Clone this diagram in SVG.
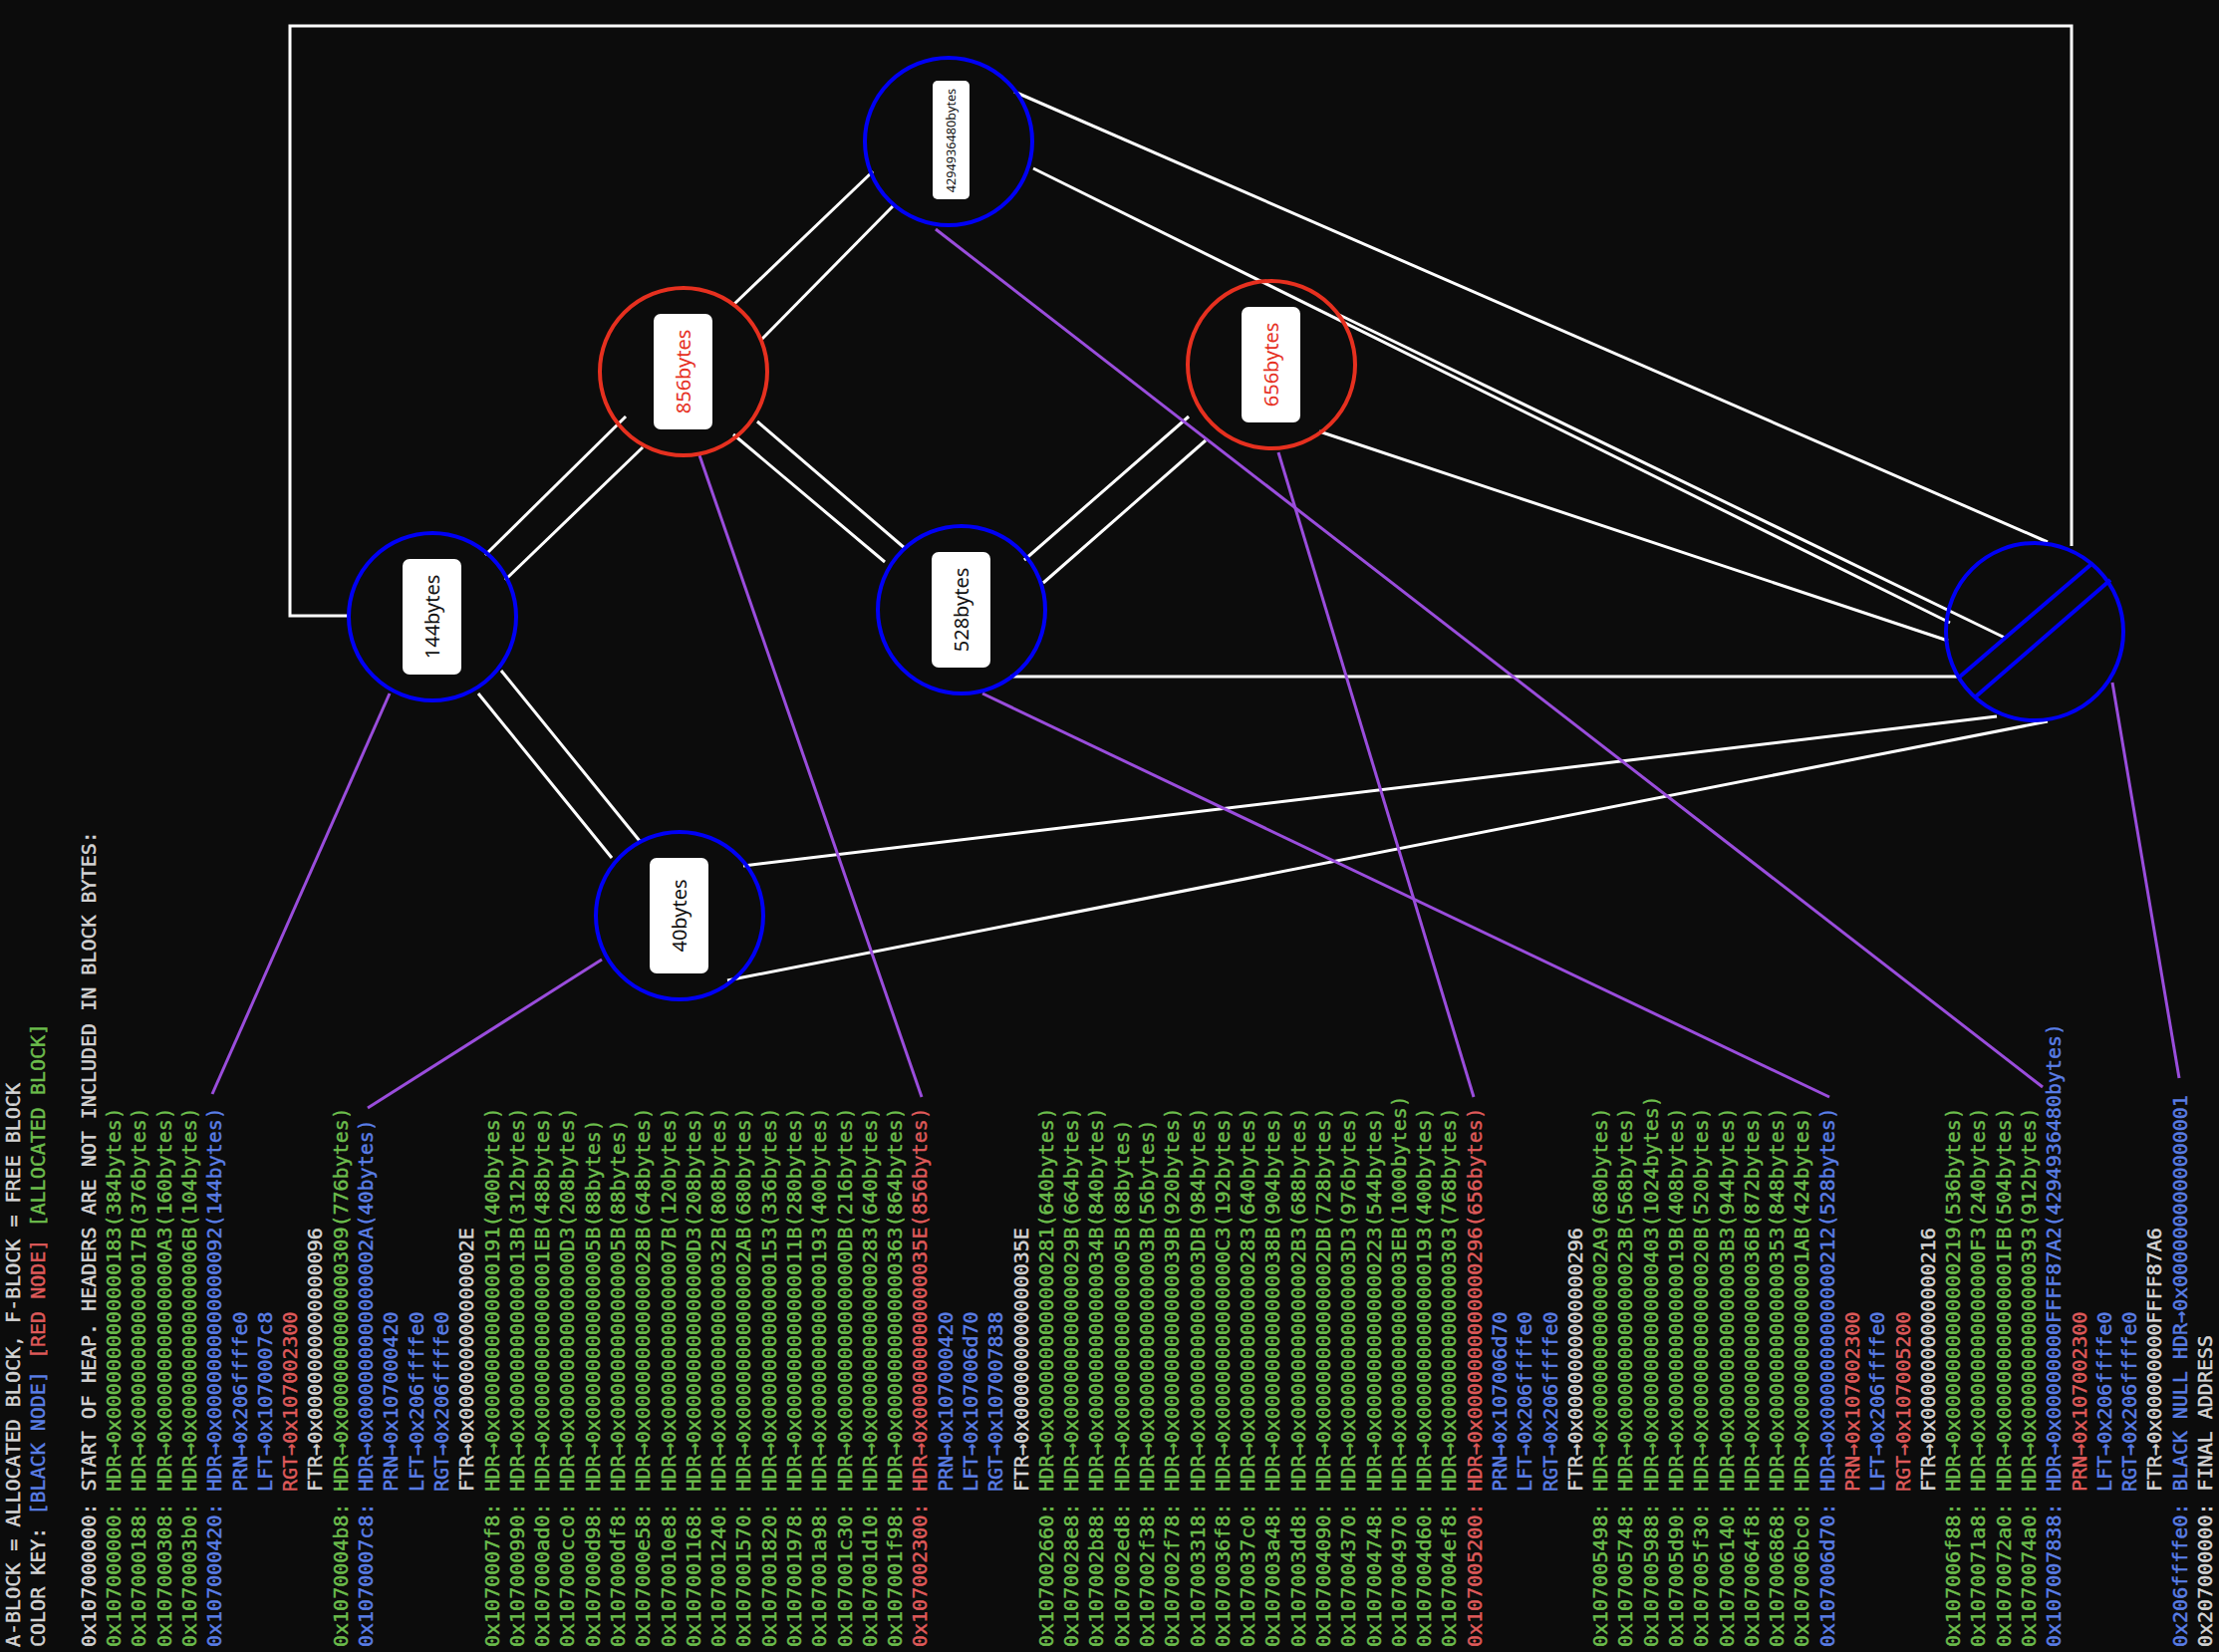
<svg xmlns="http://www.w3.org/2000/svg" width="2227" height="1658" viewBox="0 0 2227 1658">
<style>
.t text{font-family:"DejaVu Sans Mono","Liberation Mono",monospace;font-size:20px;stroke-width:0.45px}
.g{fill:#6cbd4c;stroke:#6cbd4c}.b{fill:#5a7ee6;stroke:#5a7ee6}.r{fill:#df5a5a;stroke:#df5a5a}.w{fill:#d4d4d4;stroke:#d4d4d4}
.e{stroke:#ffffff;stroke-width:3;fill:none}
.p{stroke:#9a4ddc;stroke-width:3;fill:none}
.node circle{fill:none;stroke-width:4}
.blk circle,.blk line{stroke:#0000f5}
.red circle{stroke:#e6301f}
.node rect{fill:#ffffff}
.node text{font-family:"Noto Sans","DejaVu Sans",sans-serif;font-size:20px;text-anchor:middle}
.blk text{fill:#111111}.red text{fill:#e6301f}
</style>
<rect width="2227" height="1658" fill="#0c0c0c"/>
<g id="connectors">
<polyline class="e" points="351,618 291,618 291,26 2079,26 2079,548"/>
<line class="e" x1="1014" y1="679" x2="1964" y2="679"/>
<line class="e" x1="1018" y1="92" x2="2055" y2="544"/>
<line class="e" x1="1037" y1="169" x2="1957" y2="625"/>
<line class="e" x1="1342" y1="315" x2="2012" y2="640"/>
<line class="e" x1="1324" y1="433" x2="1955" y2="643"/>
<line class="e" x1="746" y1="869" x2="2004" y2="719"/>
<line class="e" x1="730" y1="984" x2="2055" y2="724"/>
<line class="e" x1="487" y1="557" x2="628" y2="418"/>
<line class="e" x1="507" y1="582" x2="645" y2="449"/>
<line class="e" x1="737" y1="305" x2="876" y2="172"/>
<line class="e" x1="764" y1="341" x2="896" y2="207"/>
<line class="e" x1="736" y1="436" x2="888" y2="564"/>
<line class="e" x1="760" y1="423" x2="909" y2="551"/>
<line class="e" x1="1028" y1="562" x2="1193" y2="418"/>
<line class="e" x1="1047" y1="585" x2="1210" y2="442"/>
<line class="e" x1="480" y1="696" x2="614" y2="861"/>
<line class="e" x1="503" y1="673" x2="642" y2="844"/>
<line class="p" x1="391" y1="696" x2="213" y2="1098"/>
<line class="p" x1="604" y1="963" x2="369" y2="1112"/>
<line class="p" x1="702" y1="457" x2="925" y2="1101"/>
<line class="p" x1="1283" y1="454" x2="1479" y2="1101"/>
<line class="p" x1="986" y1="696" x2="1836" y2="1101"/>
<line class="p" x1="939" y1="230" x2="2050" y2="1091"/>
<line class="p" x1="2120" y1="685" x2="2187" y2="1082"/>
</g>
<g id="node-4294936480" class="node blk">
<circle cx="952" cy="142" r="84"/>
<rect x="936" y="81" width="37" height="119" rx="5"/>
<text transform="translate(959,141) rotate(-90)" style="font-size:12.7px">4294936480bytes</text>
</g>
<g id="node-856" class="node red">
<circle cx="686" cy="373" r="84"/>
<rect x="656" y="315" width="59" height="116" rx="7"/>
<text transform="translate(693,373) rotate(-90)">856bytes</text>
</g>
<g id="node-656" class="node red">
<circle cx="1276" cy="366" r="84"/>
<rect x="1246" y="308" width="59" height="116" rx="7"/>
<text transform="translate(1283,366) rotate(-90)">656bytes</text>
</g>
<g id="node-144" class="node blk">
<circle cx="434" cy="619" r="84"/>
<rect x="404" y="561" width="59" height="116" rx="7"/>
<text transform="translate(441,619) rotate(-90)">144bytes</text>
</g>
<g id="node-528" class="node blk">
<circle cx="965" cy="612" r="84"/>
<rect x="935" y="554" width="59" height="116" rx="7"/>
<text transform="translate(972,612) rotate(-90)">528bytes</text>
</g>
<g id="node-40" class="node blk">
<circle cx="682" cy="919" r="84"/>
<rect x="652" y="861" width="59" height="116" rx="7"/>
<text transform="translate(689,919) rotate(-90)">40bytes</text>
</g>
<g id="node-null" class="node blk">
<circle cx="2042" cy="634" r="89"/>
<line x1="1967" y1="679" x2="2098" y2="567" stroke-width="4"/>
<line x1="1983" y1="699" x2="2118" y2="582" stroke-width="4"/>
</g>
<g id="heap-text" class="t">
<text class="w" transform="translate(20,1653) rotate(-90)">A-BLOCK = ALLOCATED BLOCK, F-BLOCK = FREE BLOCK</text>
<text class="w" transform="translate(45.3,1653) rotate(-90)">COLOR KEY: <tspan class="b">[BLACK NODE]</tspan> <tspan class="r">[RED NODE]</tspan> <tspan class="g">[ALLOCATED BLOCK]</tspan></text>
<text class="w" transform="translate(95.9,1653) rotate(-90)">0x107000000: START OF HEAP. HEADERS ARE NOT INCLUDED IN BLOCK BYTES:</text>
<text class="g" transform="translate(121.1,1653) rotate(-90)">0x107000000: HDR→0x0000000000000183(384bytes)</text>
<text class="g" transform="translate(146.4,1653) rotate(-90)">0x107000188: HDR→0x000000000000017B(376bytes)</text>
<text class="g" transform="translate(171.7,1653) rotate(-90)">0x107000308: HDR→0x00000000000000A3(160bytes)</text>
<text class="g" transform="translate(197,1653) rotate(-90)">0x1070003b0: HDR→0x000000000000006B(104bytes)</text>
<text class="b" transform="translate(222.3,1653) rotate(-90)">0x107000420: HDR→0x0000000000000092(144bytes)</text>
<text class="b" transform="translate(247.6,1497) rotate(-90)">PRN→0x206ffffe0</text>
<text class="b" transform="translate(272.9,1497) rotate(-90)">LFT→0x1070007c8</text>
<text class="r" transform="translate(298.2,1497) rotate(-90)">RGT→0x107002300</text>
<text class="w" transform="translate(323.4,1497) rotate(-90)">FTR→0x0000000000000096</text>
<text class="g" transform="translate(348.7,1653) rotate(-90)">0x1070004b8: HDR→0x0000000000000309(776bytes)</text>
<text class="b" transform="translate(374,1653) rotate(-90)">0x1070007c8: HDR→0x000000000000002A(40bytes)</text>
<text class="b" transform="translate(399.3,1497) rotate(-90)">PRN→0x107000420</text>
<text class="b" transform="translate(424.6,1497) rotate(-90)">LFT→0x206ffffe0</text>
<text class="b" transform="translate(449.9,1497) rotate(-90)">RGT→0x206ffffe0</text>
<text class="w" transform="translate(475.2,1497) rotate(-90)">FTR→0x000000000000002E</text>
<text class="g" transform="translate(500.5,1653) rotate(-90)">0x1070007f8: HDR→0x0000000000000191(400bytes)</text>
<text class="g" transform="translate(525.7,1653) rotate(-90)">0x107000990: HDR→0x000000000000013B(312bytes)</text>
<text class="g" transform="translate(551,1653) rotate(-90)">0x107000ad0: HDR→0x00000000000001EB(488bytes)</text>
<text class="g" transform="translate(576.3,1653) rotate(-90)">0x107000cc0: HDR→0x00000000000000D3(208bytes)</text>
<text class="g" transform="translate(601.6,1653) rotate(-90)">0x107000d98: HDR→0x000000000000005B(88bytes)</text>
<text class="g" transform="translate(626.9,1653) rotate(-90)">0x107000df8: HDR→0x000000000000005B(88bytes)</text>
<text class="g" transform="translate(652.2,1653) rotate(-90)">0x107000e58: HDR→0x000000000000028B(648bytes)</text>
<text class="g" transform="translate(677.5,1653) rotate(-90)">0x1070010e8: HDR→0x000000000000007B(120bytes)</text>
<text class="g" transform="translate(702.7,1653) rotate(-90)">0x107001168: HDR→0x00000000000000D3(208bytes)</text>
<text class="g" transform="translate(728,1653) rotate(-90)">0x107001240: HDR→0x000000000000032B(808bytes)</text>
<text class="g" transform="translate(753.3,1653) rotate(-90)">0x107001570: HDR→0x00000000000002AB(680bytes)</text>
<text class="g" transform="translate(778.6,1653) rotate(-90)">0x107001820: HDR→0x0000000000000153(336bytes)</text>
<text class="g" transform="translate(803.9,1653) rotate(-90)">0x107001978: HDR→0x000000000000011B(280bytes)</text>
<text class="g" transform="translate(829.2,1653) rotate(-90)">0x107001a98: HDR→0x0000000000000193(400bytes)</text>
<text class="g" transform="translate(854.5,1653) rotate(-90)">0x107001c30: HDR→0x00000000000000DB(216bytes)</text>
<text class="g" transform="translate(879.8,1653) rotate(-90)">0x107001d10: HDR→0x0000000000000283(640bytes)</text>
<text class="g" transform="translate(905,1653) rotate(-90)">0x107001f98: HDR→0x0000000000000363(864bytes)</text>
<text class="r" transform="translate(930.3,1653) rotate(-90)">0x107002300: HDR→0x000000000000035E(856bytes)</text>
<text class="b" transform="translate(955.6,1497) rotate(-90)">PRN→0x107000420</text>
<text class="b" transform="translate(980.9,1497) rotate(-90)">LFT→0x107006d70</text>
<text class="b" transform="translate(1006.2,1497) rotate(-90)">RGT→0x107007838</text>
<text class="w" transform="translate(1031.5,1497) rotate(-90)">FTR→0x000000000000035E</text>
<text class="g" transform="translate(1056.8,1653) rotate(-90)">0x107002660: HDR→0x0000000000000281(640bytes)</text>
<text class="g" transform="translate(1082,1653) rotate(-90)">0x1070028e8: HDR→0x000000000000029B(664bytes)</text>
<text class="g" transform="translate(1107.3,1653) rotate(-90)">0x107002b88: HDR→0x000000000000034B(840bytes)</text>
<text class="g" transform="translate(1132.6,1653) rotate(-90)">0x107002ed8: HDR→0x000000000000005B(88bytes)</text>
<text class="g" transform="translate(1157.9,1653) rotate(-90)">0x107002f38: HDR→0x000000000000003B(56bytes)</text>
<text class="g" transform="translate(1183.2,1653) rotate(-90)">0x107002f78: HDR→0x000000000000039B(920bytes)</text>
<text class="g" transform="translate(1208.5,1653) rotate(-90)">0x107003318: HDR→0x00000000000003DB(984bytes)</text>
<text class="g" transform="translate(1233.8,1653) rotate(-90)">0x1070036f8: HDR→0x00000000000000C3(192bytes)</text>
<text class="g" transform="translate(1259.1,1653) rotate(-90)">0x1070037c0: HDR→0x0000000000000283(640bytes)</text>
<text class="g" transform="translate(1284.3,1653) rotate(-90)">0x107003a48: HDR→0x000000000000038B(904bytes)</text>
<text class="g" transform="translate(1309.6,1653) rotate(-90)">0x107003dd8: HDR→0x00000000000002B3(688bytes)</text>
<text class="g" transform="translate(1334.9,1653) rotate(-90)">0x107004090: HDR→0x00000000000002DB(728bytes)</text>
<text class="g" transform="translate(1360.2,1653) rotate(-90)">0x107004370: HDR→0x00000000000003D3(976bytes)</text>
<text class="g" transform="translate(1385.5,1653) rotate(-90)">0x107004748: HDR→0x0000000000000223(544bytes)</text>
<text class="g" transform="translate(1410.8,1653) rotate(-90)">0x107004970: HDR→0x00000000000003EB(1000bytes)</text>
<text class="g" transform="translate(1436.1,1653) rotate(-90)">0x107004d60: HDR→0x0000000000000193(400bytes)</text>
<text class="g" transform="translate(1461.4,1653) rotate(-90)">0x107004ef8: HDR→0x0000000000000303(768bytes)</text>
<text class="r" transform="translate(1486.6,1653) rotate(-90)">0x107005200: HDR→0x0000000000000296(656bytes)</text>
<text class="b" transform="translate(1511.9,1497) rotate(-90)">PRN→0x107006d70</text>
<text class="b" transform="translate(1537.2,1497) rotate(-90)">LFT→0x206ffffe0</text>
<text class="b" transform="translate(1562.5,1497) rotate(-90)">RGT→0x206ffffe0</text>
<text class="w" transform="translate(1587.8,1497) rotate(-90)">FTR→0x0000000000000296</text>
<text class="g" transform="translate(1613.1,1653) rotate(-90)">0x107005498: HDR→0x00000000000002A9(680bytes)</text>
<text class="g" transform="translate(1638.4,1653) rotate(-90)">0x107005748: HDR→0x000000000000023B(568bytes)</text>
<text class="g" transform="translate(1663.6,1653) rotate(-90)">0x107005988: HDR→0x0000000000000403(1024bytes)</text>
<text class="g" transform="translate(1688.9,1653) rotate(-90)">0x107005d90: HDR→0x000000000000019B(408bytes)</text>
<text class="g" transform="translate(1714.2,1653) rotate(-90)">0x107005f30: HDR→0x000000000000020B(520bytes)</text>
<text class="g" transform="translate(1739.5,1653) rotate(-90)">0x107006140: HDR→0x00000000000003B3(944bytes)</text>
<text class="g" transform="translate(1764.8,1653) rotate(-90)">0x1070064f8: HDR→0x000000000000036B(872bytes)</text>
<text class="g" transform="translate(1790.1,1653) rotate(-90)">0x107006868: HDR→0x0000000000000353(848bytes)</text>
<text class="g" transform="translate(1815.4,1653) rotate(-90)">0x107006bc0: HDR→0x00000000000001AB(424bytes)</text>
<text class="b" transform="translate(1840.7,1653) rotate(-90)">0x107006d70: HDR→0x0000000000000212(528bytes)</text>
<text class="r" transform="translate(1865.9,1497) rotate(-90)">PRN→0x107002300</text>
<text class="b" transform="translate(1891.2,1497) rotate(-90)">LFT→0x206ffffe0</text>
<text class="r" transform="translate(1916.5,1497) rotate(-90)">RGT→0x107005200</text>
<text class="w" transform="translate(1941.8,1497) rotate(-90)">FTR→0x0000000000000216</text>
<text class="g" transform="translate(1967.1,1653) rotate(-90)">0x107006f88: HDR→0x0000000000000219(536bytes)</text>
<text class="g" transform="translate(1992.4,1653) rotate(-90)">0x1070071a8: HDR→0x00000000000000F3(240bytes)</text>
<text class="g" transform="translate(2017.7,1653) rotate(-90)">0x1070072a0: HDR→0x00000000000001FB(504bytes)</text>
<text class="g" transform="translate(2042.9,1653) rotate(-90)">0x1070074a0: HDR→0x0000000000000393(912bytes)</text>
<text class="b" transform="translate(2068.2,1653) rotate(-90)">0x107007838: HDR→0x00000000FFFF87A2(4294936480bytes)</text>
<text class="r" transform="translate(2093.5,1497) rotate(-90)">PRN→0x107002300</text>
<text class="b" transform="translate(2118.8,1497) rotate(-90)">LFT→0x206ffffe0</text>
<text class="b" transform="translate(2144.1,1497) rotate(-90)">RGT→0x206ffffe0</text>
<text class="w" transform="translate(2169.4,1497) rotate(-90)">FTR→0x00000000FFFF87A6</text>
<text class="b" transform="translate(2194.7,1653) rotate(-90)">0x206ffffe0: BLACK NULL HDR→0x0000000000000001</text>
<text class="w" transform="translate(2220,1653) rotate(-90)">0x207000000: FINAL ADDRESS</text>
</g>
</svg>
